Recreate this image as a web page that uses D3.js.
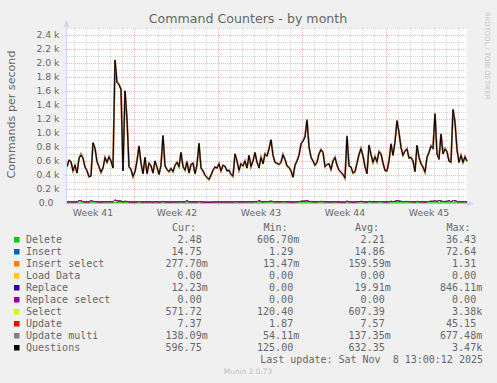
<!DOCTYPE html>
<html><head><meta charset="utf-8">
<script src="https://cdn.jsdelivr.net/npm/d3@7"></script>
<style>html,body{margin:0;padding:0;background:#f0f0f0;}svg{display:block;}</style>
</head><body><svg id="c" width="497" height="383"></svg>
<script>
// ---------- data (4-hour samples, Oct 6 10:00 -> Nov 8 18:00) ----------
const questions = [
520,610,590,460,540,430,630,685,640,515,
460,380,380,860,780,590,520,440,500,650,
580,660,600,500,2040,1720,1690,1620,460,1600,
1200,520,480,380,450,600,810,570,420,650,
420,570,530,430,600,510,410,540,960,530,
480,450,495,450,540,580,520,720,520,470,
580,430,550,570,420,550,850,500,460,400,
370,340,400,470,515,500,560,460,540,525,
460,470,410,385,700,600,470,560,530,600,
500,680,520,600,720,580,500,650,560,700,
670,770,900,680,580,566,550,580,690,620,
530,510,460,370,540,600,680,840,880,940,
1180,800,650,600,540,580,700,760,720,520,
550,560,480,600,650,540,470,440,410,360,
950,530,514,430,450,570,690,776,670,520,
420,823,690,580,660,590,730,700,570,466,
460,600,840,680,870,1170,1000,790,680,740,
770,640,650,600,450,820,650,562,514,443,
650,720,810,776,1270,700,620,980,700,770,
730,590,585,1330,1150,760,580,680,580,660,
597];
const selectC = [
497,586,566,437,514,407,604,660,617,490,
437,356,357,832,757,566,496,416,476,624,
556,634,577,476,1990,1690,1660,1590,437,1570,
1172,496,457,356,428,575,786,546,397,624,
398,545,506,407,576,486,387,516,932,507,
457,426,471,427,515,556,496,694,497,447,
556,407,526,546,397,526,824,476,437,378,
346,317,377,446,491,476,536,437,516,501,
437,446,387,362,676,576,446,536,506,576,
476,655,496,576,694,556,476,626,536,676,
646,744,874,656,556,542,526,556,666,596,
506,486,437,348,516,576,656,814,855,914,
1150,776,626,576,516,556,676,734,696,496,
526,536,457,576,626,516,446,416,387,337,
922,506,490,407,426,546,666,750,646,496,
397,798,666,556,636,566,706,676,546,443,
437,576,814,656,846,1140,972,766,656,716,
746,616,626,576,427,796,626,538,490,420,
626,696,786,752,1236,676,596,952,676,746,
706,566,561,1296,1120,736,556,656,556,636,
572];
const deleteC = [
2.1,2.4,2.0,1.8,2.2,1.9,2.6,2.8,2.5,2.0,
1.9,1.6,1.7,3.1,2.9,2.3,2.1,1.8,2.0,2.5,
2.2,2.6,2.3,2.0,6.4,5.3,5.1,4.9,1.9,4.8,
3.6,2.0,1.9,1.6,1.8,2.3,2.9,2.2,1.7,2.5,
1.7,2.2,2.1,1.8,2.3,2.0,1.7,2.1,3.4,2.1,
1.9,1.8,2.0,1.8,2.1,2.3,2.0,2.7,2.0,1.9,
2.3,1.7,2.2,2.2,1.7,2.2,3.1,2.0,1.8,1.6,
1.5,1.4,1.6,1.9,2.0,2.0,2.2,1.8,2.1,2.1,
1.8,1.9,1.7,1.6,2.6,2.3,1.9,2.2,2.1,2.3,
2.0,2.6,2.1,2.3,2.7,2.3,2.0,2.5,2.2,2.7,
2.6,2.9,3.3,2.6,2.3,2.2,2.2,2.3,2.6,2.4,
2.1,2.0,1.8,1.5,2.1,2.3,2.6,3.1,3.2,3.4,
4.1,3.0,2.5,2.3,2.1,2.3,2.7,2.9,2.7,2.0,
2.1,2.2,1.9,2.3,2.5,2.1,1.9,1.8,1.7,1.5,
3.4,2.1,2.0,1.7,1.8,2.2,2.6,2.9,2.6,2.0,
1.7,3.0,2.6,2.3,2.5,2.3,2.8,2.7,2.2,1.9,
1.8,2.3,3.1,2.6,3.2,4.2,3.6,2.9,2.6,2.8,
2.9,2.5,2.5,2.3,1.8,3.0,2.5,2.2,2.0,1.8,
2.5,2.7,3.0,2.9,4.5,2.6,2.4,3.5,2.6,2.9,
2.8,2.3,2.3,4.7,4.1,2.9,2.3,2.6,2.3,2.5,
2.48];
const insertC = [
14,16,15,13,15,12,32,30,16,14,
13,11,33,19,18,15,14,12,14,16,
15,17,16,14,36,24,22,21,13,20,
17,14,13,11,12,15,19,15,12,16,
12,15,14,12,16,14,11,14,20,14,
13,12,13,12,14,15,14,18,14,13,
34,12,14,15,12,14,19,14,13,11,
10,10,11,13,14,14,15,13,14,14,
13,13,12,11,18,16,13,15,14,16,
14,17,14,16,18,15,33,17,15,18,
17,19,22,18,16,15,15,16,18,17,
15,14,13,11,15,16,17,21,22,24,
28,20,17,16,15,16,18,19,19,14,
15,15,13,16,17,15,13,12,12,10,
23,15,14,12,12,15,17,20,17,14,
12,20,17,15,17,15,19,18,15,13,
13,16,21,17,21,28,24,20,17,19,
19,17,17,16,12,20,17,15,14,12,
17,19,21,20,30,18,34,24,18,20,
19,32,15,31,28,19,15,17,15,17,
14.75];
const insertSelectC = [
.15,.18,.17,.13,.15,.12,.19,.21,.18,.15,
.14,.11,.11,.26,.23,.17,.15,.13,.14,.19,
.16,.19,.17,.15,.62,.48,.46,.44,.13,.45,
.31,.15,.14,.11,.13,.17,.23,.16,.12,.19,
.12,.16,.15,.12,.17,.15,.11,.15,.27,.15,
.14,.13,.14,.13,.15,.17,.15,.20,.15,.14,
.17,.12,.16,.16,.12,.16,.24,.14,.13,.11,
.10,.09,.11,.13,.15,.14,.16,.13,.15,.15,
.13,.13,.12,.11,.20,.17,.13,.16,.15,.17,
.14,.19,.15,.17,.20,.16,.14,.18,.16,.20,
.19,.22,.25,.19,.16,.16,.15,.16,.19,.18,
.15,.15,.13,.10,.15,.17,.19,.24,.25,.27,
.34,.23,.19,.17,.15,.16,.20,.22,.20,.15,
.15,.16,.13,.17,.19,.15,.13,.12,.11,.10,
.27,.15,.14,.12,.12,.16,.19,.22,.19,.15,
.12,.23,.19,.16,.19,.17,.21,.20,.16,.13,
.13,.17,.24,.19,.25,.33,.28,.22,.19,.21,
.22,.18,.19,.17,.13,.23,.19,.16,.15,.13,
.19,.21,.23,.22,.36,.20,.18,.28,.20,.22,
.21,.17,.17,.38,.33,.22,.17,.19,.17,.19,
.28];
const loadDataC = [
0,0,0,0,0,0,0,0,0,0, 0,0,0,0,0,0,0,0,0,0, 0,0,0,0,0,0,0,0,0,0,
0,0,0,0,0,0,0,0,0,0, 0,0,0,0,0,0,0,0,0,0, 0,0,0,0,0,0,0,0,0,0,
0,0,0,0,0,0,0,0,0,0, 0,0,0,0,0,0,0,0,0,0, 0,0,0,0,0,0,0,0,0,0,
0,0,0,0,0,0,0,0,0,0, 0,0,0,0,0,0,0,0,0,0, 0,0,0,0,0,0,0,0,0,0,
0,0,0,0,0,0,0,0,0,0, 0,0,0,0,0,0,0,0,0,0, 0,0,0,0,0,0,0,0,0,0,
0,0,0,0,0,0,0,0,0,0, 0,0,0,0,0,0,0,0,0,0, 0,0,0,0,0,0,0,0,0,0,
0,0,0,0,0,0,0,0,0,0, 0,0,0,0,0,0,0,0,0,0, 0,0,0,0,0,0,0,0,0,0,
0];
const replaceC = [
0,0,0,0,0,0,0,0,0,0, 0,0,0,0,0,0,0,0,0,0, 0,0,0,0,.85,.3,0,0,0,0,
0,0,0,0,0,0,0,0,0,0, 0,0,0,0,0,0,0,0,.2,0, 0,0,0,0,0,0,0,0,0,0,
0,0,0,0,0,0,.1,0,0,0, 0,0,0,0,0,0,0,0,0,0, 0,0,0,0,0,0,0,0,0,0,
0,0,0,0,0,0,0,0,0,0, 0,0,0,0,0,0,0,0,0,0, 0,0,0,0,0,0,0,0,0,0,
0,0,0,0,0,0,0,0,0,0, 0,0,0,0,0,0,0,0,0,0, 0,0,0,0,0,0,0,0,0,0,
0,0,0,0,0,0,0,0,0,0, 0,0,0,0,0,0,0,0,0,0, 0,0,0,0,0,0,0,0,0,0,
0,0,0,0,.3,0,0,0,0,0, 0,0,0,0,0,0,0,0,0,0, 0,0,0,0,0,0,0,0,0,0,
.01];
const replaceSelectC = [
0,0,0,0,0,0,0,0,0,0, 0,0,0,0,0,0,0,0,0,0, 0,0,0,0,0,0,0,0,0,0,
0,0,0,0,0,0,0,0,0,0, 0,0,0,0,0,0,0,0,0,0, 0,0,0,0,0,0,0,0,0,0,
0,0,0,0,0,0,0,0,0,0, 0,0,0,0,0,0,0,0,0,0, 0,0,0,0,0,0,0,0,0,0,
0,0,0,0,0,0,0,0,0,0, 0,0,0,0,0,0,0,0,0,0, 0,0,0,0,0,0,0,0,0,0,
0,0,0,0,0,0,0,0,0,0, 0,0,0,0,0,0,0,0,0,0, 0,0,0,0,0,0,0,0,0,0,
0,0,0,0,0,0,0,0,0,0, 0,0,0,0,0,0,0,0,0,0, 0,0,0,0,0,0,0,0,0,0,
0,0,0,0,0,0,0,0,0,0, 0,0,0,0,0,0,0,0,0,0, 0,0,0,0,0,0,0,0,0,0,
0];
const updateC = [
7.1,7.9,7.6,6.4,7.2,6.1,8.2,8.6,8.1,7.0,
6.5,5.8,5.9,9.4,8.8,7.6,7.1,6.3,6.9,8.2,
7.4,8.3,7.6,6.9,12.5,10.8,10.5,10.1,6.5,9.9,
8.6,7.0,6.6,5.6,6.3,7.6,9.1,7.5,6.2,8.0,
6.1,7.4,7.1,6.2,7.6,7.0,5.9,7.2,9.8,7.1,
6.7,6.4,6.9,6.4,7.2,7.6,7.1,8.6,7.0,6.6,
7.6,6.2,7.3,7.4,6.1,7.3,9.2,6.9,6.6,6.0,
5.6,5.4,6.0,6.6,7.1,7.0,7.5,6.6,7.3,7.2,
6.6,6.7,6.1,5.8,8.3,7.6,6.7,7.5,7.3,7.6,
7.0,8.1,7.2,7.6,8.4,7.5,7.0,8.0,7.5,8.3,
8.1,8.8,9.5,8.2,7.6,7.4,7.2,7.5,8.1,7.8,
7.1,7.0,6.6,5.5,7.1,7.5,8.2,9.3,9.5,9.8,
11.2,8.9,8.0,7.6,7.1,7.5,8.3,8.7,8.4,7.1,
7.3,7.4,6.7,7.6,8.0,7.2,6.6,6.4,6.1,5.6,
10.2,7.1,7.0,6.4,6.5,7.5,8.3,8.8,8.2,7.1,
6.3,8.7,8.2,7.5,8.1,7.6,8.6,8.5,7.5,6.7,
6.6,7.7,9.0,8.2,9.2,11.0,10.2,8.9,8.2,8.5,
8.7,7.9,8.0,7.6,6.4,8.8,8.0,7.4,7.0,6.5,
8.0,8.5,9.0,8.8,10.9,8.4,7.8,10.1,8.4,8.7,
8.6,7.6,7.5,11.6,10.8,8.7,7.5,8.2,7.5,8.1,
7.37];
const updateMultiC = [
.13,.15,.14,.11,.13,.10,.16,.18,.16,.13,
.12,.09,.09,.22,.20,.15,.13,.11,.12,.16,
.14,.16,.15,.13,.58,.44,.42,.40,.11,.40,
.27,.13,.12,.09,.11,.15,.20,.14,.10,.16,
.10,.14,.13,.10,.15,.13,.09,.13,.24,.13,
.12,.11,.12,.11,.13,.15,.13,.18,.13,.12,
.15,.10,.14,.14,.10,.14,.21,.12,.11,.09,
.08,.07,.09,.11,.13,.12,.14,.11,.13,.13,
.11,.11,.10,.09,.18,.15,.11,.14,.13,.15,
.12,.17,.13,.15,.18,.14,.12,.16,.14,.18,
.17,.19,.22,.17,.14,.14,.13,.14,.17,.16,
.13,.13,.11,.08,.13,.15,.17,.21,.22,.24,
.30,.20,.17,.15,.13,.14,.18,.19,.18,.13,
.13,.14,.11,.15,.17,.13,.11,.10,.09,.08,
.24,.13,.12,.10,.10,.14,.17,.19,.17,.13,
.10,.20,.17,.14,.17,.15,.19,.18,.14,.11,
.11,.15,.21,.17,.22,.29,.25,.19,.17,.18,
.19,.16,.17,.15,.11,.20,.17,.14,.13,.11,
.17,.18,.20,.19,.31,.18,.16,.25,.18,.19,
.18,.15,.15,.34,.29,.19,.15,.17,.15,.17,
.14];

const seriesNames  = ["Delete","Insert","Insert select","Load Data","Replace","Replace select","Select","Update","Update multi","Questions"];
const seriesColors = ["#00CC00","#0066B3","#FF8000","#FFCC00","#330099","#990099","#CCFF00","#FF0000","#808080","#000000"];
const curVals = ["2.48","14.75","277.70m","0.00","12.23m","0.00","571.72","7.37","138.09m","596.75"];
const minVals = ["606.70m","1.29","13.47m","0.00","0.00","0.00","120.40","1.87","54.11m","125.00"];
const avgVals = ["2.21","14.86","159.59m","0.00","19.91m","0.00","607.39","7.57","137.35m","632.35"];
const maxVals = ["36.43","72.64","1.31","0.00","846.11m","0.00","3.38k","45.15","677.48m","3.47k"];
const colHeaders = ["Cur:","Min:","Avg:","Max:"];
const weekLabels = ["Week 41","Week 42","Week 43","Week 44","Week 45"];
const weekLabelDates = ["2025-10-08T12:00:00Z","2025-10-15T12:00:00Z","2025-10-22T12:00:00Z","2025-10-29T12:00:00Z","2025-11-05T12:00:00Z"];
const titleText = "Command Counters - by month";
const yLabelText = "Commands per second";
const lastUpdate = "Last update: Sat Nov  8 13:00:12 2025";

// ---------- chart ----------
const W = 497, H = 383, L = 67, R = 467, T = 28, B = 203;
const t0 = new Date(Date.UTC(2025, 9, 6, 10)), t1 = new Date(Date.UTC(2025, 10, 8, 18));
const x = d3.scaleUtc().domain([t0, t1]).range([L, R]);
const y = d3.scaleLinear().domain([0, 2500]).range([B, T]);
const STEP = 4 * 3600 * 1000;

const svg = d3.select("#c");
const FONT = "'DejaVu Sans', sans-serif", MONO = "'DejaVu Sans Mono', monospace";
const TXT = "#666666";

svg.append("rect").attr("width", W).attr("height", H).attr("fill", "#f0f0f0");
svg.append("rect").attr("x", L).attr("y", T).attr("width", R - L).attr("height", B - T).attr("fill", "#ffffff");

const grid = svg.append("g").attr("shape-rendering", "crispEdges");
const snap = v => Math.round(v) + 0.5;
const majorY = y.ticks(12), minorY = y.ticks(25).filter(v => !majorY.includes(v));
const days = d3.utcDay.range(d3.utcDay.ceil(t0), t1);
const weeks = d3.utcSunday.range(d3.utcDay.ceil(t0), t1);
const weekSet = new Set(weeks.map(d => +d));
const GMIN = "#d6d6d6", GMAJ = "#f0b4b4";

grid.selectAll(".hmin").data(minorY).join("line")
  .attr("x1", L).attr("x2", R).attr("y1", d => snap(y(d))).attr("y2", d => snap(y(d)))
  .attr("stroke", GMIN).attr("stroke-dasharray", "1,1");
grid.selectAll(".vmin").data(days.filter(d => !weekSet.has(+d))).join("line")
  .attr("x1", d => snap(x(d))).attr("x2", d => snap(x(d))).attr("y1", T).attr("y2", B)
  .attr("stroke", GMIN).attr("stroke-dasharray", "1,1");
grid.selectAll(".hmaj").data(majorY.filter(v => v > 0)).join("line")
  .attr("x1", L - 2).attr("x2", R).attr("y1", d => snap(y(d))).attr("y2", d => snap(y(d)))
  .attr("stroke", GMAJ).attr("stroke-dasharray", "1,1");
grid.selectAll(".vmaj").data(weeks).join("line")
  .attr("x1", d => snap(x(d))).attr("x2", d => snap(x(d))).attr("y1", T).attr("y2", B + 3)
  .attr("stroke", GMAJ).attr("stroke-dasharray", "1,1");

// axes
const AX = "#CFD6F8";
grid.append("line").attr("x1", L - 0.5).attr("x2", L - 0.5).attr("y1", 24).attr("y2", B + 2).attr("stroke", AX);
grid.append("line").attr("x1", L - 2).attr("x2", R + 3).attr("y1", snap(B)).attr("y2", snap(B)).attr("stroke", AX);
svg.append("path").attr("d", `M${L - 0.5},20 L${L - 3.5},27 L${L + 2.5},27 Z`).attr("fill", AX);
svg.append("path").attr("d", `M${R + 7},${snap(B)} L${R + 0},${snap(B) - 3} L${R},${snap(B) + 3} Z`).attr("fill", AX);

// y tick labels
svg.selectAll(".ylab").data(majorY).join("text")
  .attr("x", d => d === 0 ? 53.5 : 59.5).attr("y", d => y(d)).attr("dy", "0.36em")
  .attr("text-anchor", "end").attr("font-family", FONT).attr("font-size", 9.3).attr("fill", TXT)
  .text(d => d === 0 ? "0.0" : d3.format(".1f")(d / 1000) + " k");

// x labels
svg.selectAll(".xlab").data(weekLabels).join("text")
  .attr("x", (d, i) => x(new Date(weekLabelDates[i])) + 1).attr("y", 215.5)
  .attr("text-anchor", "middle").attr("font-family", FONT).attr("font-size", 9.3).attr("fill", TXT)
  .text(d => d);

// title, y label, watermark
svg.append("text").attr("x", 248).attr("y", 23.3).attr("text-anchor", "middle")
  .attr("font-family", FONT).attr("font-size", 12.6).attr("fill", TXT).text(titleText);
svg.append("text").attr("transform", "translate(14.5,114.5) rotate(-90)").attr("text-anchor", "middle")
  .attr("font-family", FONT).attr("font-size", 11.1).attr("fill", TXT).text(yLabelText);
svg.append("text").attr("transform", "translate(485,12) rotate(90)")
  .attr("font-family", FONT).attr("font-size", 6.8).attr("fill", "#c4c4c4").text("RRDTOOL / TOBI OETIKER");

// stacked lines
const keys = ["del","ins","inss","load","rep","reps","sel","upd","updm"];
const srcArrays = [deleteC, insertC, insertSelectC, loadDataC, replaceC, replaceSelectC, selectC, updateC, updateMultiC];
const rows = questions.map((q, i) => {
  const r = { t: new Date(+t0 + i * STEP), q };
  keys.forEach((k, j) => r[k] = srcArrays[j][i]);
  return r;
});
const stacked = d3.stack().keys(keys)(rows);
const clip = svg.append("defs").append("clipPath").attr("id", "pc");
clip.append("rect").attr("x", L).attr("y", T - 5).attr("width", R - L + 1).attr("height", B - T + 6);
const plot = svg.append("g").attr("clip-path", "url(#pc)");
const line = d3.line().x(d => x(d.data.t)).y(d => y(d[1]));
const sw  = [1, 1, 1, 1, 1, 1, 1.4, 1.7, 1.7];
const sop = [1, 1, 1, 1, 1, 1, 1, 0.7, 0.75];
plot.selectAll(".s").data(stacked).join("path")
  .attr("d", line).attr("fill", "none")
  .attr("stroke", (d, i) => seriesColors[i])
  .attr("stroke-width", (d, i) => sw[i]).attr("stroke-opacity", (d, i) => sop[i]);
plot.append("path").datum(rows)
  .attr("d", d3.line().x(d => x(d.t)).y(d => y(d.q)))
  .attr("fill", "none").attr("stroke", seriesColors[9]).attr("stroke-width", 1);

// legend
const CW = 6.02, colEnd = [207.7, 299.2, 390.7, 482.2], colHead = [172, 263.5, 355, 446.5];
const lg = svg.append("g").attr("font-family", MONO).attr("font-size", 10).attr("fill", TXT);
colHeaders.forEach((h, k) => lg.append("text").attr("x", colHead[k]).attr("y", 231).text(h));
const cols = [curVals, minVals, avgVals, maxVals];
seriesNames.forEach((n, i) => {
  const by = 243 + 12 * i;
  lg.append("rect").attr("x", 14).attr("y", by - 6).attr("width", 5.5).attr("height", 5.5)
    .attr("fill", seriesColors[i]);
  lg.append("text").attr("x", 26).attr("y", by).text(n);
  cols.forEach((c, k) => {
    const s = c[i];
    const suffix = /[a-z]$/i.test(s);
    lg.append("text").attr("x", colEnd[k] - (suffix ? 0 : CW)).attr("y", by)
      .attr("text-anchor", "end").text(s);
  });
});
lg.append("text").attr("x", 483).attr("y", 363).attr("text-anchor", "end")
  .style("white-space", "pre").text(lastUpdate);
svg.append("text").attr("x", 248).attr("y", 374).attr("text-anchor", "middle")
  .attr("font-family", FONT).attr("font-size", 7.4).attr("fill", "#c0c0c0").text("Munin 2.0.73");
</script></body></html>
